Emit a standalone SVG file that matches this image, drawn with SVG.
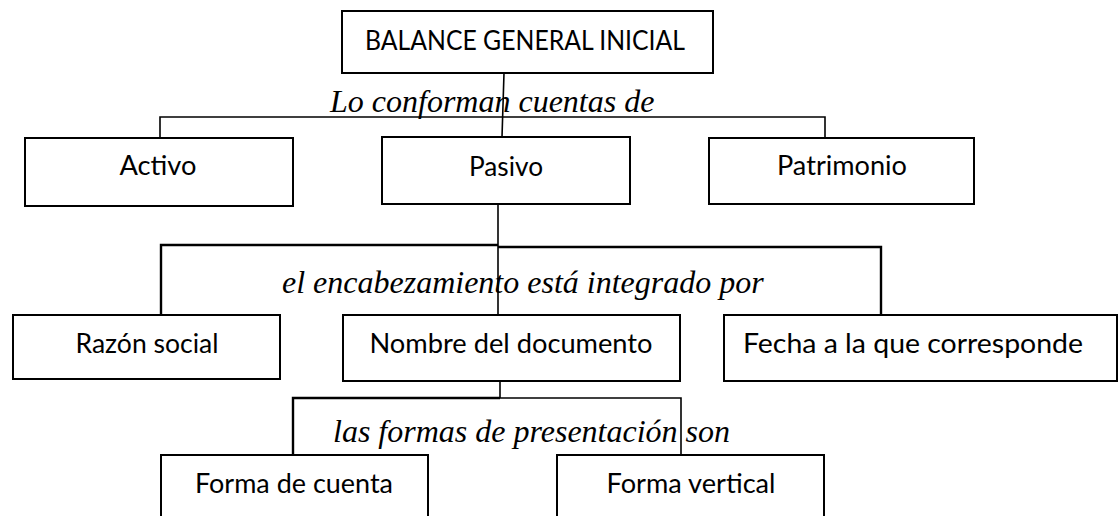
<svg xmlns="http://www.w3.org/2000/svg" width="1119" height="516" viewBox="0 0 1119 516">
<style>
.box{fill:#fff;stroke:#000;stroke-width:2}
.lbl{font-family:Lato,"Liberation Sans",sans-serif;font-size:26px;fill:#000;text-anchor:middle}
.cap{font-family:"Liberation Serif","Times New Roman",serif;font-style:italic;font-size:32px;fill:#000}
.ln{fill:none;stroke:#000;stroke-width:1.6}
.thick{stroke-width:2.4}
</style>
<rect width="1119" height="516" fill="#fff"/>
<g id="captions">
<text class="cap" x="330" y="112">Lo conforman cuentas de</text>
<text class="cap" x="282" y="293">el encabezamiento está integrado por</text>
<text class="cap" x="333" y="442">las formas de presentación son</text>
</g>
<g id="nodes">
<g id="balance"><rect class="box" x="342" y="11" width="371" height="62"/><text class="lbl" x="525" y="50" textLength="320" lengthAdjust="spacingAndGlyphs">BALANCE GENERAL INICIAL</text></g>
<g id="activo"><rect class="box" x="25" y="138" width="268" height="68"/><text class="lbl" x="158" y="175" textLength="77" lengthAdjust="spacingAndGlyphs">Activo</text></g>
<g id="pasivo"><rect class="box" x="382" y="137" width="248" height="67"/><text class="lbl" x="506" y="176" textLength="74" lengthAdjust="spacingAndGlyphs">Pasivo</text></g>
<g id="patrimonio"><rect class="box" x="709" y="138" width="265" height="66"/><text class="lbl" x="842" y="175" textLength="130" lengthAdjust="spacingAndGlyphs">Patrimonio</text></g>
<g id="razon"><rect class="box" x="13" y="315" width="267" height="64"/><text class="lbl" x="147" y="353" textLength="143" lengthAdjust="spacingAndGlyphs">Razón social</text></g>
<g id="nombre"><rect class="box" x="343" y="315" width="337" height="66"/><text class="lbl" x="511" y="353" textLength="283" lengthAdjust="spacingAndGlyphs">Nombre del documento</text></g>
<g id="fecha"><rect class="box" x="724" y="315" width="393" height="66"/><text class="lbl" x="913" y="353" textLength="340" lengthAdjust="spacingAndGlyphs">Fecha a la que corresponde</text></g>
<g id="forma-cuenta"><rect class="box" x="161" y="455" width="267" height="80"/><text class="lbl" x="294" y="493" textLength="198" lengthAdjust="spacingAndGlyphs">Forma de cuenta</text></g>
<g id="forma-vertical"><rect class="box" x="557" y="455" width="267" height="80"/><text class="lbl" x="691" y="493" textLength="169" lengthAdjust="spacingAndGlyphs">Forma vertical</text></g>
</g>
<g id="connectors">
<path class="ln" d="M504 73 L502 137"/>
<path class="ln" d="M160 138 V117 H825 V138"/>
<path class="ln" d="M498 204 V314"/>
<path class="ln thick" d="M161 315 V245 H498"/>
<path class="ln thick" d="M498 247 H881 V315"/>
<path class="ln" d="M500 381 V398"/>
<path class="ln thick" d="M293 455 V398 H500"/>
<path class="ln" d="M500 398 H681 V455"/>
</g>
</svg>
